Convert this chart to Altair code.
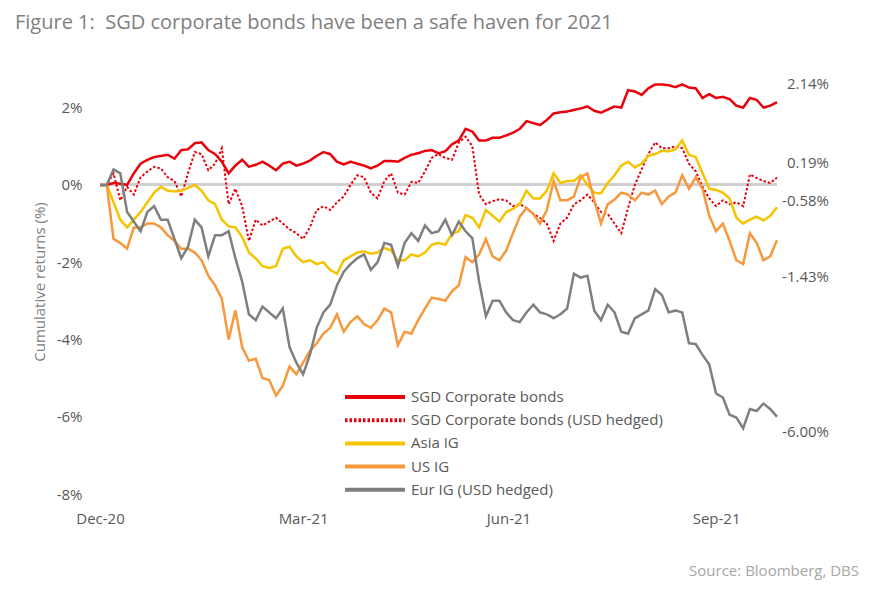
import altair as alt
import pandas as pd

# ---- data ----
dates = pd.date_range("2020-12-31", periods=101, freq="3D").strftime("%Y-%m-%d").tolist()

sgd = [0, 0, 0.05, 0.03, 0.0, 0.3, 0.55, 0.65, 0.72, 0.75,
       0.78, 0.68, 0.9, 0.92, 1.08, 1.1, 0.9, 0.8, 0.6, 0.3,
       0.5, 0.65, 0.47, 0.52, 0.6, 0.5, 0.38, 0.55, 0.6, 0.5,
       0.55, 0.63, 0.75, 0.85, 0.8, 0.6, 0.53, 0.6, 0.55, 0.5,
       0.43, 0.5, 0.62, 0.62, 0.6, 0.7, 0.78, 0.82, 0.88, 0.9,
       0.82, 0.87, 1.05, 1.15, 1.45, 1.38, 1.15, 1.15, 1.22, 1.22,
       1.28, 1.35, 1.45, 1.65, 1.6, 1.55, 1.68, 1.85, 1.88, 1.9,
       1.94, 1.98, 2.03, 1.92, 1.87, 1.95, 2.03, 2.0, 2.45, 2.42,
       2.33, 2.5, 2.6, 2.6, 2.58, 2.53, 2.6, 2.52, 2.5, 2.25,
       2.35, 2.25, 2.28, 2.22, 2.05, 2.0, 2.25, 2.2, 2.0, 2.05,
       2.14]

sgd_hedged = [0, 0, 0.3, -0.4, -0.05, -0.25, 0.2, 0.35, 0.47, 0.42,
              0.2, 0.1, -0.3, 0.3, 0.85, 0.8, 0.38, 0.55, 0.95, -0.5,
              -0.1, -0.55, -1.45, -0.9, -1.05, -0.95, -0.85, -1.0, -1.15, -1.25,
              -1.4, -1.1, -0.65, -0.55, -0.65, -0.45, -0.3, 0.0, 0.25, 0.2,
              -0.2, -0.35, 0.1, 0.3, -0.2, -0.25, 0.08, 0.05, 0.35, 0.7,
              0.8, 0.7, 0.65, 1.1, 1.25, 1.0, -0.25, -0.5, -0.42, -0.37,
              -0.4, -0.55, -0.5, -0.6, -0.75, -0.85, -1.0, -1.45, -1.0, -0.85,
              -0.5, -0.4, -0.25, -0.45, -0.7, -0.75, -1.0, -1.25, -0.6, 0.0,
              0.4, 0.8, 1.1, 0.95, 0.95, 1.0, 0.95, 0.55, 0.35, -0.05,
              -0.35, -0.55, -0.4, -0.5, -0.45, -0.55, 0.27, 0.18, 0.1, 0.05,
              0.19]

asia_ig = [0, 0, -0.45, -0.9, -1.1, -0.9, -0.7, -0.45, -0.2, -0.05,
           -0.15, -0.17, -0.15, -0.08, 0.0, -0.15, -0.4, -0.5, -0.9, -1.07,
           -1.1, -1.35, -1.75, -1.9, -2.1, -2.15, -2.1, -1.65, -1.6, -1.85,
           -2.0, -1.95, -2.05, -2.0, -2.2, -2.3, -1.95, -1.85, -1.75, -1.72,
           -1.78, -1.75, -1.63, -1.7, -1.95, -1.95, -1.8, -1.85, -1.75, -1.55,
           -1.5, -1.55, -1.26, -1.2, -0.78, -0.85, -1.1, -0.65, -0.8, -0.95,
           -0.7, -0.62, -0.5, -0.15, -0.35, -0.35, -0.15, 0.3, 0.05, 0.1,
           0.1, 0.25, 0.0, -0.2, -0.22, 0.05, 0.25, 0.5, 0.6, 0.45,
           0.55, 0.75, 0.8, 0.88, 0.87, 0.92, 1.15, 0.78, 0.72, 0.3,
           -0.1, -0.13, -0.2, -0.35, -0.85, -1.0, -0.9, -0.82, -0.92, -0.8,
           -0.58]

us_ig = [0, 0, -1.4, -1.5, -1.65, -1.1, -1.1, -1.0, -1.0, -1.1,
         -1.3, -1.45, -1.65, -1.65, -1.75, -1.95, -2.35, -2.6, -2.95, -4.0,
         -3.25, -4.2, -4.55, -4.5, -5.0, -5.05, -5.45, -5.2, -4.7, -4.9,
         -4.6, -4.3, -4.1, -3.85, -3.7, -3.35, -3.8, -3.55, -3.4, -3.6,
         -3.7, -3.5, -3.2, -3.3, -4.15, -3.8, -3.85, -3.5, -3.2, -2.92,
         -2.95, -3.0, -2.75, -2.6, -1.87, -2.0, -1.8, -1.4, -1.85, -1.95,
         -1.7, -1.25, -0.82, -0.6, -0.75, -1.0, -0.65, 0.1, -0.4, -0.4,
         -0.3, 0.2, 0.3, -0.4, -1.0, -0.5, -0.38, -0.2, -0.25, -0.4,
         -0.2, -0.25, -0.15, -0.5, -0.3, -0.2, 0.25, -0.1, 0.2, -0.1,
         -0.8, -1.2, -1.0, -1.45, -1.95, -2.05, -1.25, -1.5, -1.95, -1.85,
         -1.43]

eur_ig = [0, 0, 0.4, 0.3, -0.7, -0.95, -1.2, -0.7, -0.55, -0.9,
          -0.9, -1.4, -1.9, -1.6, -0.9, -1.1, -1.85, -1.3, -1.3, -1.2,
          -1.9, -2.5, -3.35, -3.5, -3.15, -3.3, -3.45, -3.2, -4.2, -4.6,
          -4.9, -4.4, -3.7, -3.3, -3.1, -2.6, -2.25, -2.05, -1.9, -1.8,
          -2.2, -2.0, -1.5, -1.55, -2.1, -1.5, -1.25, -1.45, -1.05, -1.25,
          -1.2, -0.9, -1.3, -0.95, -1.2, -1.38, -2.5, -3.4, -3.0, -3.0,
          -3.3, -3.5, -3.55, -3.3, -3.1, -3.3, -3.35, -3.45, -3.35, -3.2,
          -2.3, -2.4, -2.35, -3.25, -3.5, -3.1, -3.3, -3.8, -3.85, -3.45,
          -3.35, -3.25, -2.7, -2.85, -3.3, -3.25, -3.3, -4.1, -4.12, -4.4,
          -4.65, -5.4, -5.5, -5.95, -6.02, -6.3, -5.8, -5.85, -5.66, -5.8,
          -6.0]

series_names = ["SGD Corporate bonds", "SGD Corporate bonds (USD hedged)",
                "Asia IG", "US IG", "Eur IG (USD hedged)"]
series_values = [sgd, sgd_hedged, asia_ig, us_ig, eur_ig]
series_colors = ["#e8000b", "#e8000b", "#f5c400", "#f7983c", "#7f7f7f"]
series_dash = [[1, 0], [2.5, 2], [1, 0], [1, 0], [1, 0]]

end_labels = ["2.14%", "0.19%", "-0.58%", "-1.43%", "-6.00%"]
end_label_pos = [2.62, 0.57, -0.41, -2.38, -6.4]   # vertical spot (in %) of each end label

y_ticks = [-8, -6, -4, -2, 0, 2]

# ---- tables ----
rows = []
for name, vals in zip(series_names, series_values):
    for d, v in zip(dates, vals):
        rows.append({"date": d, "value": v, "series": name})
df = pd.DataFrame(rows)

legend_df = pd.DataFrame({"series": series_names, "row": list(range(len(series_names)))})
labels_df = pd.DataFrame({"label": end_labels, "pos": end_label_pos})

GREY_TXT = "#595959"
FONT = "Open Sans"
Y_DOMAIN = [-8, 3]

color_scale = alt.Scale(domain=series_names, range=series_colors)
dash_scale = alt.Scale(domain=series_names, range=series_dash)

x_enc = alt.X(
    "date:T",
    scale=alt.Scale(type="utc",
                    domain=[alt.DateTime(year=2020, month=12, date=31, utc=True),
                            alt.DateTime(year=2021, month=10, date=27, utc=True)]),
    axis=alt.Axis(
        title=None, format="%b-%y", domain=False, ticks=False, grid=False, labelFlush=False,
        values=[alt.DateTime(year=2020, month=12, date=31, utc=True),
                alt.DateTime(year=2021, month=3, date=31, utc=True),
                alt.DateTime(year=2021, month=6, date=30, utc=True),
                alt.DateTime(year=2021, month=9, date=30, utc=True)],
        labelFont=FONT, labelFontSize=15, labelColor=GREY_TXT, labelPadding=17,
    ),
)
y_enc = alt.Y(
    "value:Q",
    scale=alt.Scale(domain=Y_DOMAIN, nice=False, zero=False),
    axis=alt.Axis(
        title="Cumulative returns (%)", values=y_ticks, labelExpr="datum.value + '%'",
        domain=False, ticks=False, grid=False,
        labelFont=FONT, labelFontSize=15, labelColor=GREY_TXT, labelPadding=18,
        titleFont=FONT, titleFontSize=15, titleColor="#7f7f7f", titleFontWeight="normal",
        titlePadding=9,
    ),
)

zero_rule = alt.Chart(df).mark_rule(color="#cfcfcf", strokeWidth=2.2).encode(y=alt.datum(0))

line_layers = []
for name in series_names:
    sw = 2 if "hedged" in name and "SGD" in name else 2.5
    line_layers.append(
        alt.Chart(df).transform_filter(alt.datum.series == name)
        .mark_line(strokeWidth=sw)
        .encode(
            x=x_enc, y=y_enc,
            color=alt.Color("series:N", scale=color_scale, legend=None),
            strokeDash=alt.StrokeDash("series:N", scale=dash_scale, legend=None),
        )
    )

legend_lines = (
    alt.Chart(legend_df)
    .transform_calculate(py="328 + datum.row * 23.2")
    .mark_rule(strokeWidth=4)
    .encode(
        x=alt.value(245), x2=alt.value(305),
        y=alt.Y("py:Q", scale=None, axis=None),
        color=alt.Color("series:N", scale=color_scale, legend=None),
        strokeDash=alt.StrokeDash("series:N", scale=dash_scale, legend=None),
    )
)
legend_text = (
    alt.Chart(legend_df)
    .transform_calculate(py="328 + datum.row * 23.2")
    .mark_text(align="left", baseline="middle", font=FONT, fontSize=15, color=GREY_TXT)
    .encode(x=alt.value(311), y=alt.Y("py:Q", scale=None, axis=None), text="series:N")
)

end_text = (
    alt.Chart(labels_df)
    .mark_text(align="right", baseline="middle", font=FONT, fontSize=15, color=GREY_TXT)
    .encode(x=alt.value(729),
            y=alt.Y("pos:Q", scale=alt.Scale(domain=Y_DOMAIN, nice=False, zero=False)),
            text="label:N")
)

title_text = alt.Chart(legend_df.head(1)).mark_text(
    align="left", baseline="alphabetic", font=FONT, fontSize=20, color="#7f7f7f",
    text="Figure 1:\u00a0 SGD corporate bonds have been a safe haven for 2021",
).encode(x=alt.value(-85), y=alt.value(-40))

source_text = alt.Chart(legend_df.head(1)).mark_text(
    align="right", baseline="alphabetic", font=FONT, fontSize=15, color="#a6a6a6",
    text="Source: Bloomberg, DBS",
).encode(x=alt.value(759), y=alt.value(507))

chart = (
    alt.layer(zero_rule, *line_layers, legend_lines, legend_text, end_text, title_text, source_text)
    .properties(
        width=677, height=425,
        padding={"left": 92, "top": 61, "right": 85, "bottom": 88},
        autosize=alt.AutoSizeParams(type="none"),
        background="white",
    )
    .configure_view(stroke=None)
)

chart.save("out.html", embed_options={"renderer": "svg", "actions": False})
